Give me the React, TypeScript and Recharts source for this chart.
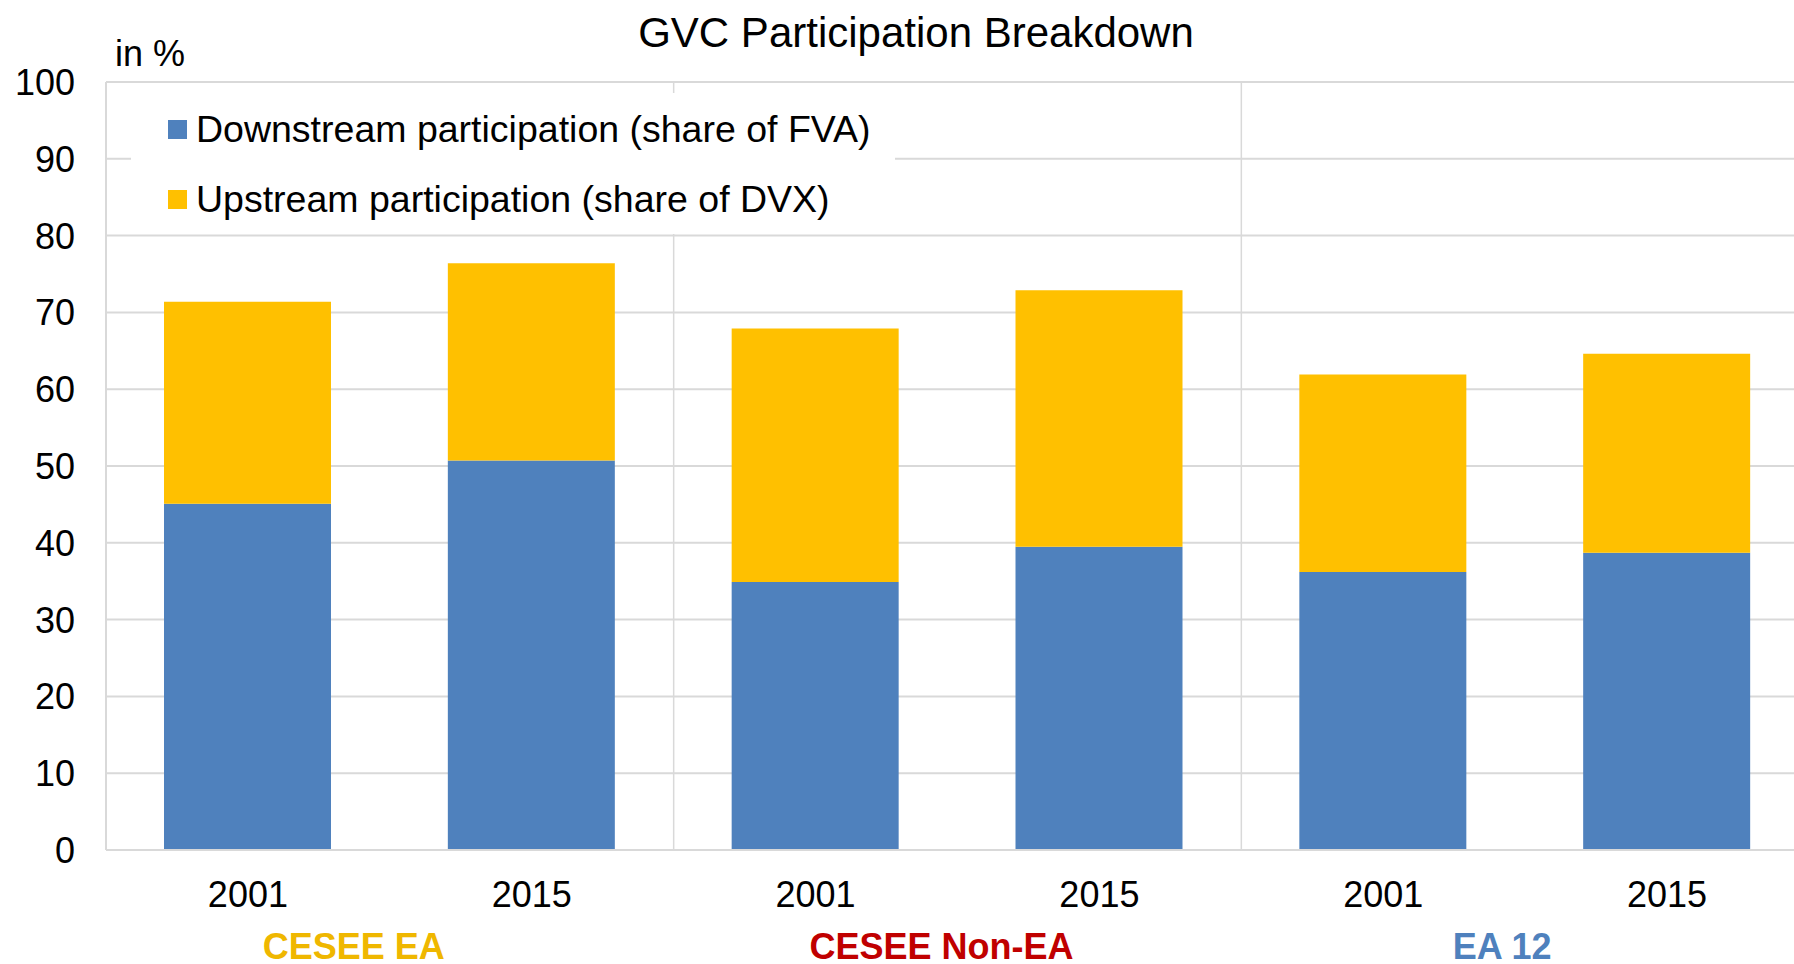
import React from 'react';
import { BarChart, Bar, XAxis, YAxis, CartesianGrid, Legend } from 'recharts';

const years = ['2001', '2015', '2001', '2015', '2001', '2015'];
const groups = ['CESEE EA', 'CESEE EA', 'CESEE Non-EA', 'CESEE Non-EA', 'EA 12', 'EA 12'];
const downstream = [45.1, 50.7, 34.9, 39.5, 36.2, 38.7];
const upstream = [26.3, 25.7, 33.0, 33.4, 25.7, 25.9];
const yTicks = [0, 10, 20, 30, 40, 50, 60, 70, 80, 90, 100];
const seriesNames = ['Downstream participation (share of FVA)', 'Upstream participation (share of DVX)'];
const titleText = 'GVC Participation Breakdown';
const unitText = 'in %';

const FONT = 'Liberation Sans, Arial, Helvetica, sans-serif';
const BLUE = '#4F81BD';
const GOLD = '#FFC000';
const GRID = '#D9D9D9';
const groupColors: Record<string, string> = {
  'CESEE EA': '#EFB700',
  'CESEE Non-EA': '#C00000',
  'EA 12': '#4F81BD',
};
const groupShift: Record<string, number> = {
  'CESEE EA': -36,
  'CESEE Non-EA': -16,
  'EA 12': -23,
};

const data = years.map((y, i) => ({
  year: y,
  group: groups[i],
  down: downstream[i],
  up: upstream[i],
}));

const YTick = (props: any) => {
  const { x, y, payload } = props;
  return (
    <text x={x} y={y + 13} textAnchor="end" fontSize={36} fontFamily={FONT} fill="#000">
      {payload.value}
    </text>
  );
};

const YearTick = (props: any) => {
  const { x, y, payload } = props;
  return (
    <text x={x} y={y + 26} textAnchor="middle" fontSize={36} fontFamily={FONT} fill="#000">
      {payload.value}
    </text>
  );
};

const GroupTick = (props: any) => {
  const { x, y, payload } = props;
  const g = payload.value as string;
  return (
    <text
      x={x + (groupShift[g] || 0)}
      y={y + 26}
      textAnchor="middle"
      fontSize={36}
      fontWeight="bold"
      fontFamily={FONT}
      fill={groupColors[g] || '#000'}
    >
      {g}
    </text>
  );
};

const LegendContent = (props: any) => {
  const { payload } = props;
  return (
    <div style={{ width: 764, height: 140, background: '#fff', fontFamily: FONT }}>
      {(payload || []).map((p: any, i: number) => (
        <div
          key={i}
          style={{ height: 70, display: 'flex', alignItems: 'center', marginTop: i === 0 ? 1 : 0 }}
        >
          <div style={{ width: 19, height: 19, background: p.color, marginLeft: 37, marginRight: 9 }} />
          <span style={{ fontSize: 37.5, color: '#000', whiteSpace: 'nowrap' }}>{p.value}</span>
        </div>
      ))}
    </div>
  );
};

export default function App() {
  return (
    <div
      style={{
        position: 'absolute',
        left: 0,
        top: 0,
        width: 1794,
        height: 964,
        overflow: 'hidden',
        background: '#fff',
      }}
    >
      <BarChart
        width={1830}
        height={964}
        data={data}
        margin={{ top: 82, right: 21, bottom: 0, left: 0 }}
      >
        <CartesianGrid xAxisId={0} vertical={false} stroke={GRID} strokeWidth={2} />
        <CartesianGrid
          xAxisId={0}
          horizontal={false}
          stroke={GRID}
          strokeWidth={1.5}
          verticalCoordinatesGenerator={({ offset }: any) => [
            offset.left + offset.width / 3,
            offset.left + (2 * offset.width) / 3,
            offset.left + offset.width,
          ]}
        />
        <XAxis
          xAxisId={0}
          dataKey="year"
          height={60}
          tickLine={false}
          tickSize={0}
          tickMargin={31}
          axisLine={{ stroke: GRID, strokeWidth: 2 }}
          tick={<YearTick />}
          interval={0}
        />
        <XAxis
          xAxisId={1}
          dataKey="group"
          allowDuplicatedCategory={false}
          height={54}
          tickLine={false}
          tickSize={0}
          tickMargin={23}
          axisLine={false}
          tick={<GroupTick />}
          interval={0}
        />
        <YAxis
          width={106}
          domain={[0, 100]}
          ticks={yTicks}
          interval={0}
          tickLine={false}
          tickSize={0}
          tickMargin={31}
          axisLine={{ stroke: GRID, strokeWidth: 2 }}
          tick={<YTick />}
        />
        <Legend
          layout="vertical"
          align="center"
          verticalAlign="middle"
          content={<LegendContent />}
          wrapperStyle={{ position: 'absolute', left: 131, top: 93, width: 764, height: 140, background: '#fff' }}
        />
        <Bar
          xAxisId={0}
          dataKey="down"
          name={seriesNames[0]}
          stackId="a"
          fill={BLUE}
          barSize={167}
          isAnimationActive={false}
        />
        <Bar
          xAxisId={0}
          dataKey="up"
          name={seriesNames[1]}
          stackId="a"
          fill={GOLD}
          barSize={167}
          isAnimationActive={false}
        />
      </BarChart>
      <svg
        width={1794}
        height={964}
        style={{ position: 'absolute', left: 0, top: 0, pointerEvents: 'none' }}
      >
        <text x={916} y={47} textAnchor="middle" fontSize={42} fontFamily={FONT} fill="#000">
          {titleText}
        </text>
        <text x={115} y={66} fontSize={36} fontFamily={FONT} fill="#000">
          {unitText}
        </text>
      </svg>
    </div>
  );
}
